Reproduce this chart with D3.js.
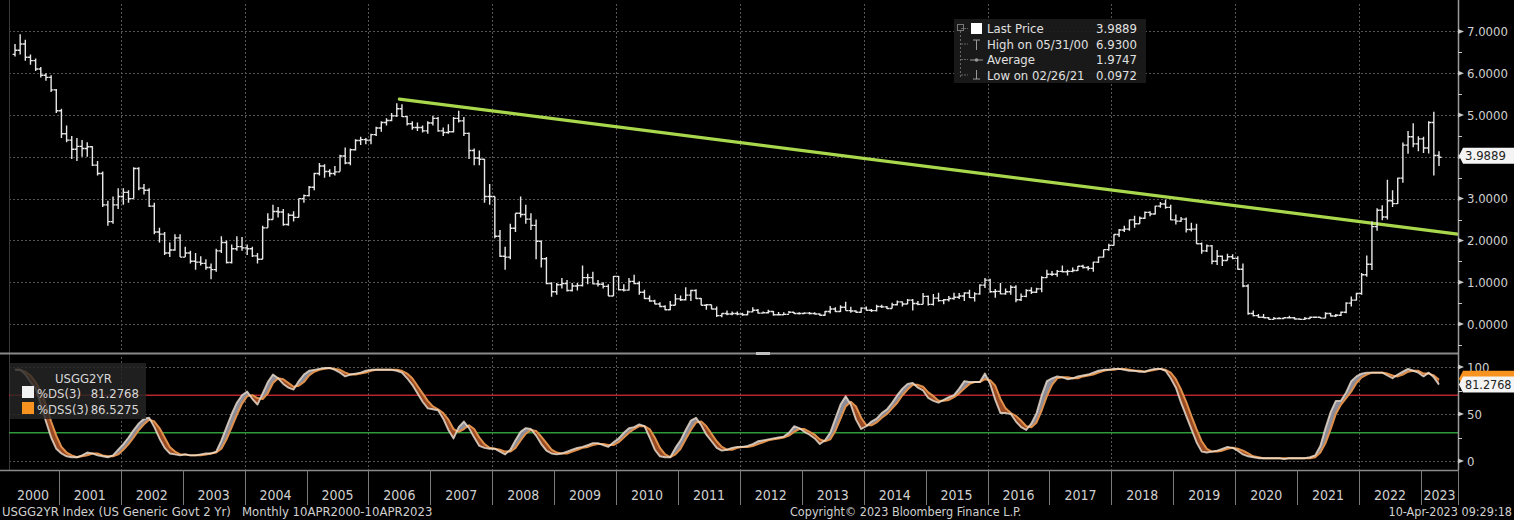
<!DOCTYPE html>
<html><head><meta charset="utf-8">
<script src="https://cdn.jsdelivr.net/npm/d3@7"></script>
<style>
body{margin:0;background:#000;overflow:hidden}
svg text{font-family:"Liberation Sans Narrow","DejaVu Sans Condensed","Arial Narrow","Liberation Sans",sans-serif;white-space:pre;}
</style>
</head><body>
<svg id="c" width="1514" height="520"></svg>
<script>
// ---------------- DATA ----------------
const firstYear = 2000, firstMonth = 4; // April 2000 first bar
const firstOpen = 6.45;
const closes = [
 6.55,6.70,6.38,6.30,6.10,5.95,5.90,5.60,5.10,
 4.55,4.40,4.18,4.25,4.20,4.24,3.80,3.60,2.85,2.45,2.85,3.05,
 3.15,3.00,3.72,3.25,3.20,2.82,2.20,2.15,1.70,1.77,2.06,1.60,
 1.70,1.50,1.48,1.45,1.35,1.30,1.75,1.95,1.47,1.80,1.85,1.82,
 1.80,1.63,1.55,2.30,2.50,2.69,2.68,2.38,2.60,2.55,3.00,3.07,
 3.27,3.60,3.78,3.65,3.60,3.64,4.02,3.85,4.17,4.39,4.41,4.40,
 4.53,4.69,4.82,4.87,4.98,5.15,4.96,4.79,4.70,4.70,4.62,4.81,
 4.92,4.62,4.58,4.60,4.92,4.86,4.56,4.15,3.97,3.94,3.05,3.05,
 2.10,1.62,1.60,2.29,2.65,2.62,2.51,2.36,1.98,1.56,0.97,0.77,
 0.94,0.97,0.80,0.91,0.92,1.11,1.11,0.96,0.95,0.90,0.67,1.14,
 0.82,0.81,1.02,0.97,0.76,0.61,0.55,0.48,0.42,0.34,0.45,0.60,
 0.58,0.69,0.80,0.61,0.45,0.46,0.36,0.20,0.25,0.24,0.25,0.24,
 0.22,0.29,0.33,0.26,0.27,0.30,0.22,0.22,0.23,0.28,0.25,0.25,
 0.26,0.25,0.24,0.21,0.30,0.36,0.30,0.40,0.32,0.31,0.28,0.38,
 0.33,0.32,0.42,0.41,0.37,0.46,0.53,0.48,0.57,0.49,0.47,0.66,
 0.47,0.62,0.56,0.58,0.61,0.64,0.67,0.74,0.63,0.72,0.93,1.05,
 0.77,0.78,0.72,0.77,0.88,0.58,0.66,0.80,0.76,0.84,1.11,1.19,
 1.19,1.26,1.25,1.26,1.28,1.38,1.35,1.33,1.48,1.60,1.78,1.88,
 2.14,2.25,2.27,2.49,2.40,2.53,2.67,2.63,2.82,2.87,2.79,2.49,
 2.46,2.51,2.26,2.27,1.92,1.75,1.87,1.50,1.62,1.52,1.61,1.57,
 1.31,0.91,0.25,0.20,0.16,0.15,0.11,0.13,0.13,0.15,0.15,0.12,
 0.11,0.13,0.16,0.16,0.14,0.25,0.19,0.21,0.28,0.50,0.57,0.73,
 1.18,1.43,2.33,2.72,2.56,2.95,2.88,3.49,4.28,4.48,4.31,4.43,
 4.21,4.82,4.03,3.99
];
const highs = [
 6.70,6.93,6.80,6.45,6.35,6.15,6.00,5.95,5.62,
 5.15,4.75,4.50,4.45,4.40,4.35,4.25,3.90,3.65,2.95,3.05,3.25,
 3.25,3.20,3.75,3.75,3.35,3.25,2.90,2.30,2.20,1.95,2.15,2.15,
 1.85,1.75,1.70,1.62,1.55,1.45,1.80,2.10,2.00,1.90,2.10,2.08,
 1.90,1.85,1.70,2.35,2.65,2.85,2.80,2.75,2.65,2.70,3.00,3.10,
 3.30,3.62,3.85,3.82,3.70,3.78,4.05,4.22,4.20,4.42,4.48,4.45,
 4.55,4.72,4.85,4.92,5.05,5.28,5.26,4.98,4.85,4.82,4.75,4.85,
 4.98,4.95,4.70,4.78,4.95,5.10,4.95,4.58,4.20,4.15,3.95,3.35,
 3.05,2.25,1.85,2.40,2.65,3.05,2.85,2.65,2.50,2.00,1.60,1.00,
 0.98,1.10,1.05,0.98,0.98,1.40,1.20,1.25,1.05,1.00,0.95,1.15,
 1.15,0.95,1.10,1.18,1.02,0.82,0.68,0.58,0.52,0.45,0.55,0.72,
 0.68,0.88,0.82,0.83,0.62,0.48,0.46,0.42,0.26,0.32,0.30,0.30,
 0.27,0.32,0.40,0.36,0.30,0.34,0.31,0.29,0.28,0.31,0.29,0.28,
 0.28,0.29,0.28,0.25,0.31,0.43,0.40,0.45,0.53,0.41,0.33,0.40,
 0.42,0.36,0.46,0.46,0.43,0.51,0.56,0.54,0.60,0.60,0.55,0.74,
 0.68,0.72,0.75,0.60,0.67,0.75,0.74,0.76,0.82,0.76,0.95,1.10,
 1.08,0.84,0.98,0.85,0.93,0.93,0.73,0.83,0.88,0.87,1.14,1.30,
 1.27,1.29,1.40,1.30,1.35,1.39,1.42,1.39,1.49,1.61,1.78,1.92,
 2.15,2.27,2.35,2.50,2.59,2.57,2.69,2.70,2.83,2.92,2.97,2.85,
 2.62,2.56,2.55,2.42,2.40,1.95,1.90,1.89,1.77,1.64,1.68,1.67,
 1.62,1.45,0.95,0.32,0.24,0.24,0.17,0.17,0.16,0.17,0.20,0.17,
 0.14,0.17,0.18,0.18,0.17,0.28,0.27,0.24,0.30,0.52,0.66,0.75,
 1.22,1.64,2.45,2.77,2.84,3.45,3.20,3.50,4.34,4.62,4.80,4.49,
 4.48,4.85,5.08,4.13
];
const lows = [
 6.40,6.45,6.30,6.20,6.05,5.90,5.82,5.55,5.05,
 4.45,4.35,3.95,3.90,4.00,4.00,3.78,3.55,2.80,2.35,2.40,2.75,
 2.85,2.90,3.00,3.20,3.10,2.80,2.15,1.95,1.65,1.60,1.75,1.60,
 1.60,1.45,1.30,1.40,1.30,1.07,1.25,1.70,1.45,1.45,1.75,1.75,
 1.65,1.60,1.45,1.55,2.30,2.50,2.55,2.35,2.35,2.45,2.55,2.90,
 3.05,3.20,3.55,3.50,3.52,3.55,3.65,3.82,3.80,4.15,4.28,4.30,
 4.30,4.50,4.60,4.75,4.85,4.95,4.95,4.75,4.65,4.62,4.58,4.55,
 4.75,4.60,4.50,4.55,4.58,4.82,4.50,3.95,3.80,3.80,2.90,2.85,
 2.05,1.60,1.30,1.55,2.20,2.55,2.40,2.25,1.55,1.35,0.95,0.65,
 0.70,0.85,0.78,0.78,0.80,0.90,0.95,0.95,0.90,0.85,0.67,0.67,
 0.80,0.78,0.80,0.95,0.70,0.60,0.53,0.47,0.40,0.33,0.33,0.45,
 0.55,0.56,0.55,0.60,0.45,0.34,0.35,0.17,0.16,0.21,0.21,0.21,
 0.20,0.21,0.28,0.25,0.25,0.25,0.20,0.22,0.22,0.25,0.24,0.23,
 0.24,0.23,0.23,0.20,0.20,0.25,0.29,0.29,0.32,0.27,0.27,0.27,
 0.32,0.29,0.30,0.38,0.36,0.37,0.44,0.42,0.48,0.32,0.45,0.47,
 0.44,0.44,0.53,0.47,0.54,0.58,0.60,0.55,0.62,0.54,0.70,0.86,
 0.75,0.63,0.71,0.70,0.70,0.52,0.55,0.64,0.72,0.74,0.76,1.10,
 1.15,1.13,1.23,1.16,1.24,1.27,1.33,1.28,1.25,1.46,1.59,1.75,
 1.88,2.08,2.20,2.23,2.30,2.40,2.51,2.58,2.62,2.78,2.76,2.48,
 2.38,2.44,2.19,2.21,1.92,1.68,1.72,1.43,1.41,1.39,1.52,1.55,
 1.30,0.88,0.22,0.18,0.15,0.15,0.11,0.11,0.12,0.13,0.14,0.11,
 0.10,0.0972,0.12,0.15,0.14,0.14,0.18,0.17,0.19,0.26,0.42,0.56,
 0.70,1.13,1.29,2.23,2.48,2.50,2.80,2.87,3.38,4.07,4.23,4.13,
 4.09,4.08,3.55,3.78
];
// Stochastic %DS(3) and %DSS(3)
const ds = [
 97,97,92,84,77,60,42,25,13,
 8,5,4,4,6,9,8,6,5,4,6,12,
 18,25,33,40,45,46,36,24,14,8,7,6,
 7,6,6,7,8,8,10,22,36,50,62,70,
 74,66,60,72,84,92,88,82,78,76,85,92,
 96,97,98,99,99,97,94,90,92,93,94,96,
 97,97,97,97,97,96,94,88,81,72,63,56,
 55,54,45,33,24,36,42,35,25,16,14,13,
 13,10,7,12,22,31,35,34,27,18,11,8,
 7,8,10,12,14,15,17,19,19,17,15,20,
 24,30,35,36,39,37,25,12,5,4,4,14,
 22,33,43,46,38,28,21,14,11,12,14,15,
 15,16,18,21,22,23,24,25,26,30,37,35,
 31,28,24,18,22,30,45,60,69,60,44,34,
 37,42,45,51,55,62,70,77,82,83,78,75,
 67,64,62,65,68,70,77,85,84,84,84,93,
 82,65,51,51,50,42,36,33,40,51,70,85,
 88,90,89,87,88,90,91,92,94,96,97,97,
 98,98,97,96,96,95,95,97,98,98,96,88,
 78,62,48,34,20,10,9,10,11,13,15,14,
 11,7,5,4,3,3,3,3,3,2,3,3,
 3,3,4,6,16,35,52,64,64,73,85,90,
 93,94,94,94,94,91,88,92,95,98,96,94,
 90,94,89,81.2768
];
const dss = [
 97,97,95,91,84,74,60,42,27,
 15,9,6,4,5,6,8,8,6,5,5,7,
 12,18,25,33,39,44,42,35,25,15,10,7,
 7,6,6,6,7,8,9,13,23,36,49,61,
 69,70,67,66,72,83,88,87,83,79,80,84,
 91,95,97,98,99,98,97,94,92,92,93,94,
 96,97,97,97,97,97,96,93,88,80,72,64,
 58,55,51,44,34,31,34,38,34,25,18,14,
 13,12,10,10,14,22,29,33,32,26,19,12,
 9,8,8,10,12,14,15,17,18,18,17,17,
 20,25,30,34,37,37,34,25,14,7,4,7,
 13,23,33,41,42,37,29,21,15,12,12,14,
 15,15,16,18,20,22,23,24,25,27,31,34,
 34,31,28,23,21,23,32,45,58,63,58,46,
 38,38,41,46,50,56,62,70,76,81,81,79,
 73,69,64,64,65,68,72,77,82,84,84,87,
 86,80,66,56,51,48,43,37,36,41,54,69,
 81,88,89,89,88,88,90,91,92,94,96,97,
 97,98,98,97,96,96,95,96,97,98,97,94,
 87,76,63,48,34,21,13,10,10,11,13,14,
 13,11,8,5,4,3,3,3,3,3,3,3,
 3,3,3,4,9,19,34,50,60,67,74,83,
 89,92,94,94,94,93,91,90,92,95,96,96,
 93,93,91,86.5275
];
const priceTicks = [0,1,2,3,4,5,6,7];
const stochTicks = [0,50,100];
const yearLabels = d3.range(2000, 2024).map(String);
const trendPts = [{i:74.5, v:5.38},{i:279.6, v:2.15}];
const upperBand = 70, lowerBand = 30;
const legendRows = [
  {label:"Last Price", value:"3.9889"},
  {label:"High on 05/31/00", value:"6.9300"},
  {label:"Average", value:"1.9747"},
  {label:"Low on 02/26/21", value:"0.0972"}
];
const stochLegend = [
  {label:"%DS(3)", value:"81.2768", color:"#f2f2f2"},
  {label:"%DSS(3)", value:"86.5275", color:"#f7931e"}
];
const lastPrice = 3.9889;
const footerLeft = "USGG2YR Index (US Generic Govt 2 Yr)   Monthly 10APR2000-10APR2023";
const footerMid = "Copyright\u00A9 2023 Bloomberg Finance L.P.";
const footerRight = "10-Apr-2023 09:29:18";

// ---------------- LAYOUT ----------------
const svg = d3.select("#c");
const W = 1514, H = 520;
const plotL = 9, axisX = 1458;
const mainTop = 4, mainBot = 351;
const lowTop = 357, lowBot = 470;
const n = closes.length;
const x = d3.scaleLinear().domain([0, n-1]).range([15, 1439]);
const step = x(1) - x(0);
const y = d3.scaleLinear().domain([0, 7]).range([324, 31.4]);
const ys = d3.scaleLinear().domain([0, 100]).range([461, 367]);
const opens = closes.map((c,i)=> i===0 ? firstOpen : closes[i-1]);
const yearIdx = yr => (yr - firstYear)*12 - (firstMonth-1);
const sepX = yr => Math.max(plotL, x(yearIdx(yr)) - step/2);

svg.append("rect").attr("width",W).attr("height",H).attr("fill","#000");

const grid = svg.append("g").attr("stroke","#555").attr("stroke-dasharray","2,2").attr("stroke-width",1);
priceTicks.forEach(t=>grid.append("line").attr("x1",plotL).attr("x2",axisX).attr("y1",Math.round(y(t))+0.5).attr("y2",Math.round(y(t))+0.5));
stochTicks.forEach(t=>grid.append("line").attr("x1",plotL).attr("x2",axisX).attr("y1",Math.round(ys(t))+0.5).attr("y2",Math.round(ys(t))+0.5));
d3.range(2002, 2024, 2).forEach(yr=>{
  const xx = Math.round(sepX(yr))+0.5;
  grid.append("line").attr("x1",xx).attr("x2",xx).attr("y1",mainTop).attr("y2",mainBot);
  grid.append("line").attr("x1",xx).attr("x2",xx).attr("y1",lowTop).attr("y2",lowBot);
});

svg.append("line").attr("x1",plotL+0.5).attr("x2",plotL+0.5).attr("y1",0).attr("y2",lowBot).attr("stroke","#3a3a3a");

// trend line
svg.append("line")
  .attr("x1",x(trendPts[0].i)).attr("y1",y(trendPts[0].v))
  .attr("x2",x(trendPts[1].i)).attr("y2",y(trendPts[1].v))
  .attr("stroke","#a9d84c").attr("stroke-width",3.2).attr("stroke-linecap","round");

// OHLC bars
const tick = 2.4;
const barPath = d3.range(n).map(i=>{
  const xx = x(i);
  return `M${xx},${y(highs[i])}V${y(lows[i])}M${xx-tick},${y(opens[i])}H${xx}M${xx},${y(closes[i])}H${xx+tick}`;
}).join("");
svg.append("path").attr("d",barPath).attr("stroke","#e8e8e8").attr("stroke-width",1.4).attr("fill","none");

// top legend
const lg = svg.append("g");
lg.append("rect").attr("x",954).attr("y",19).attr("width",192).attr("height",64).attr("fill","#1b1b1b").attr("opacity",0.92);
lg.append("rect").attr("x",957.5).attr("y",24.5).attr("width",6).attr("height",6).attr("fill","none").attr("stroke","#777");
lg.append("line").attr("x1",960.5).attr("x2",960.5).attr("y1",31).attr("y2",77).attr("stroke","#666").attr("stroke-dasharray","2,2");
legendRows.forEach((r,k)=>{
  const by = 33 + k*15.5;
  lg.append("line").attr("x1",961).attr("x2",968).attr("y1",by-4.5).attr("y2",by-4.5).attr("stroke","#666").attr("stroke-dasharray","2,1");
  lg.append("text").attr("x",987).attr("y",by).attr("fill","#e0e0e0").attr("font-size",13).text(r.label);
  lg.append("text").attr("x",1137).attr("y",by).attr("fill","#e0e0e0").attr("font-size",13).attr("text-anchor","end").text(r.value);
});
lg.append("rect").attr("x",971).attr("y",23).attr("width",11).attr("height",11).attr("fill","#fff");
lg.append("path").attr("d","M973,40H980M976.5,40V50").attr("stroke","#999").attr("fill","none");
lg.append("path").attr("d","M970,60H983").attr("stroke","#999").attr("fill","none");
lg.append("circle").attr("cx",976.5).attr("cy",60).attr("r",1.8).attr("fill","#999");
lg.append("path").attr("d","M976.5,70V79M973,79H980").attr("stroke","#999").attr("fill","none");

// panel divider
svg.append("line").attr("x1",0).attr("x2",axisX).attr("y1",353.5).attr("y2",353.5).attr("stroke","#8a8a8a").attr("stroke-width",2);
svg.append("rect").attr("x",756).attr("y",352).attr("width",14).attr("height",3).attr("fill","#c0c0c0");

// band lines
svg.append("line").attr("x1",plotL).attr("x2",axisX).attr("y1",ys(upperBand)).attr("y2",ys(upperBand)).attr("stroke","#b3262b").attr("stroke-width",1.6);
svg.append("line").attr("x1",plotL).attr("x2",axisX).attr("y1",ys(lowerBand)).attr("y2",ys(lowerBand)).attr("stroke","#2f9a3a").attr("stroke-width",1.6);

// stochastic fills between lines
const defs = svg.append("defs");
const above = d3.area().x((d,i)=>x(i)).y0(lowTop-5).y1((d,i)=>ys(ds[i]));
const below = d3.area().x((d,i)=>x(i)).y0(lowBot+5).y1((d,i)=>ys(ds[i]));
defs.append("clipPath").attr("id","clipA").append("path").attr("d",above(ds));
defs.append("clipPath").attr("id","clipB").append("path").attr("d",below(ds));
const band = d3.area().x((d,i)=>x(i)).y0((d,i)=>ys(ds[i])).y1((d,i)=>ys(dss[i]));
svg.append("path").attr("d",band(ds)).attr("fill","#9a4a22").attr("clip-path","url(#clipA)");
svg.append("path").attr("d",band(ds)).attr("fill","#8c8c98").attr("clip-path","url(#clipB)");
const lineS = d3.line().x((d,i)=>x(i)).y(d=>ys(d));
svg.append("path").attr("d",lineS(dss)).attr("fill","none").attr("stroke","#e0904a").attr("stroke-width",2).attr("stroke-linejoin","round");
svg.append("path").attr("d",lineS(ds)).attr("fill","none").attr("stroke","#f0e4d4").attr("stroke-width",1.9).attr("stroke-opacity",0.8).attr("stroke-linejoin","round");

// stochastic legend
const sl = svg.append("g");
sl.append("rect").attr("x",10).attr("y",363).attr("width",136).attr("height",56).attr("fill","#262626").attr("opacity",0.82);
sl.append("text").attr("x",55).attr("y",383).attr("fill","#d8d8d8").attr("font-size",13).text("USGG2YR");
stochLegend.forEach((r,k)=>{
  const by = 398 + k*16;
  sl.append("rect").attr("x",22).attr("y",by-12).attr("width",12).attr("height",12).attr("fill",r.color);
  sl.append("text").attr("x",37).attr("y",by).attr("fill","#d8d8d8").attr("font-size",13).text(r.label);
  sl.append("text").attr("x",139).attr("y",by).attr("fill","#d8d8d8").attr("font-size",13).attr("text-anchor","end").text(r.value);
});

// right axis
svg.append("line").attr("x1",axisX+0.5).attr("x2",axisX+0.5).attr("y1",0).attr("y2",lowBot).attr("stroke","#9a9a9a").attr("stroke-width",1.5);
const mainAxis = d3.axisRight(y).tickValues(priceTicks).tickFormat(d3.format(".4f")).tickSize(0).tickPadding(9);
const ga = svg.append("g").attr("transform",`translate(${axisX},0)`).call(mainAxis);
ga.select(".domain").remove();
ga.selectAll("text").attr("fill","#d0d0d0").attr("font-size",13).attr("font-family",null);
const lowAxis = d3.axisRight(ys).tickValues(stochTicks).tickFormat(d3.format("d")).tickSize(0).tickPadding(9);
const gl = svg.append("g").attr("transform",`translate(${axisX},0)`).call(lowAxis);
gl.select(".domain").remove();
gl.selectAll("text").attr("fill","#d0d0d0").attr("font-size",13).attr("font-family",null);
const tickG = svg.append("g").attr("fill","#c8c8c8").attr("stroke","#c8c8c8");
priceTicks.forEach(t=>{ const yy=y(t); tickG.append("path").attr("d",`M${axisX},${yy-2.5}L${axisX+6},${yy}L${axisX},${yy+2.5}Z`).attr("stroke","none"); });
stochTicks.forEach(t=>{ const yy=ys(t); tickG.append("path").attr("d",`M${axisX},${yy-2.5}L${axisX+6},${yy}L${axisX},${yy+2.5}Z`).attr("stroke","none"); });
d3.range(-0.5, 7.5, 1).forEach(t=>{ const yy=Math.round(y(t))+0.5; tickG.append("line").attr("x1",axisX).attr("x2",axisX+4).attr("y1",yy).attr("y2",yy).attr("stroke-width",1); });
[25,75].forEach(t=>{ const yy=Math.round(ys(t))+0.5; tickG.append("line").attr("x1",axisX).attr("x2",axisX+4).attr("y1",yy).attr("y2",yy).attr("stroke-width",1); });

// value flags on axis
function flag(yy, fill, txtFill, label, fs){
  const g = svg.append("g");
  g.append("path").attr("d",`M${axisX+1},${yy}L${axisX+5},${yy-8}H${1514}V${yy+8}H${axisX+5}Z`).attr("fill",fill);
  if(label) g.append("text").attr("x",axisX+7).attr("y",yy+4.5).attr("fill",txtFill).attr("font-size",fs).text(label);
}
flag(y(lastPrice)-1.5, "#f4f4f4", "#222", d3.format(".4f")(lastPrice), 13);
flag(ys(+stochLegend[1].value)-1, "#f7931e", "#222", null, 13);
flag(ys(+stochLegend[0].value), "#f4f4f4", "#222", stochLegend[0].value, 12.5);

// bottom time axis
const bt = svg.append("g");
bt.append("line").attr("x1",0).attr("x2",axisX).attr("y1",lowBot+0.5).attr("y2",lowBot+0.5).attr("stroke","#8a8a8a").attr("stroke-width",1.5);
yearLabels.forEach(lab=>{
  const yr = +lab;
  const x0 = sepX(yr);
  const x1 = yr===2023 ? axisX : sepX(yr+1);
  if(yr>2000) bt.append("line").attr("x1",Math.round(x0)+0.5).attr("x2",Math.round(x0)+0.5).attr("y1",lowBot).attr("y2",505).attr("stroke","#7a7a7a");
  bt.append("text").attr("x",(x0+x1)/2 + (yr===2000?-1:0)).attr("y",500).attr("text-anchor","middle").attr("fill","#d0d0d0").attr("font-size",14).text(lab);
});
bt.append("line").attr("x1",axisX+0.5).attr("x2",axisX+0.5).attr("y1",lowBot).attr("y2",505).attr("stroke","#7a7a7a");

// footer
svg.append("text").attr("x",2).attr("y",516).attr("fill","#d0d0d0").attr("font-size",13).text(footerLeft);
svg.append("text").attr("x",790).attr("y",516).attr("fill","#d0d0d0").attr("font-size",12.5).text(footerMid);
svg.append("text").attr("x",1512).attr("y",516).attr("fill","#d0d0d0").attr("font-size",12.5).attr("text-anchor","end").text(footerRight);
</script>
</body></html>
